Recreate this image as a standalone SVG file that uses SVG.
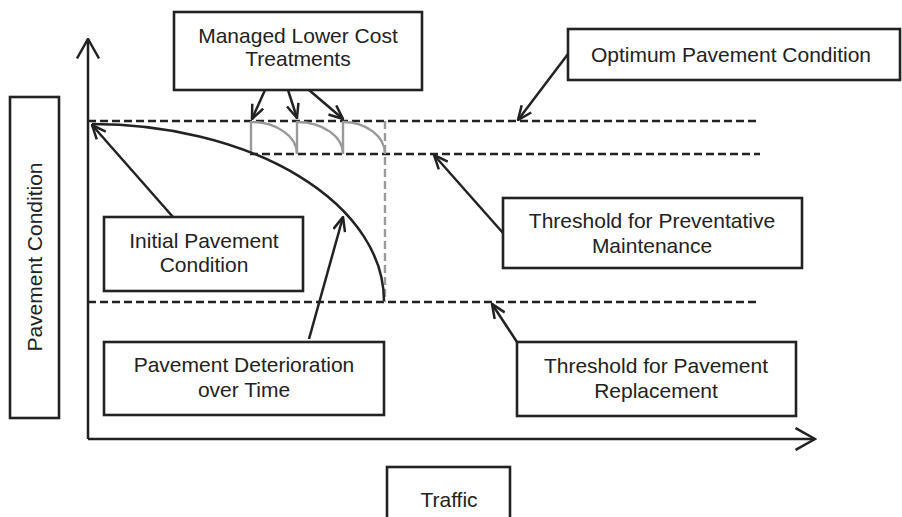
<svg xmlns="http://www.w3.org/2000/svg" width="902" height="517" viewBox="0 0 902 517">
<style>
text{font-family:"Liberation Sans",Arial,sans-serif;font-size:21px;fill:#222;text-anchor:middle}
.box{fill:#fff;stroke:#222;stroke-width:2.6}
.ln{fill:none;stroke:#222;stroke-width:2.5}
.dash{fill:none;stroke:#222;stroke-width:2.4;stroke-dasharray:8 4}
.gray{fill:none;stroke:#999;stroke-width:2.4}
.gdash{fill:none;stroke:#999;stroke-width:2.4;stroke-dasharray:8 4}
</style>
<defs>
<marker id="ah" viewBox="0 0 16 14" markerUnits="userSpaceOnUse" markerWidth="16" markerHeight="14" refX="15" refY="7" orient="auto">
<path d="M1,1 L15,7 L1,13" fill="none" stroke="#222" stroke-width="2.5"/>
</marker>
<marker id="ax" viewBox="0 0 22 24" markerUnits="userSpaceOnUse" markerWidth="22" markerHeight="24" refX="20.5" refY="12" orient="auto">
<path d="M1,1 L20.5,12 L1,23" fill="none" stroke="#222" stroke-width="2.5"/>
</marker>
</defs>

<g id="axes">
<line class="ln" x1="88" y1="439" x2="88" y2="39" marker-end="url(#ax)"/>
<line class="ln" x1="88" y1="439" x2="815" y2="439" marker-end="url(#ax)"/>
</g>

<g id="levels">
<line class="dash" x1="88" y1="121" x2="760" y2="121"/>
<line class="dash" x1="250" y1="154" x2="760" y2="154"/>
<line class="dash" x1="88" y1="302" x2="760" y2="302"/>
<line class="gdash" x1="385" y1="121" x2="385" y2="302"/>
</g>

<g id="treatments">
<line class="gray" x1="251" y1="121" x2="251" y2="154"/>
<line class="gray" x1="297" y1="121" x2="297" y2="154"/>
<line class="gray" x1="343" y1="121" x2="343" y2="154"/>
<path class="gray" d="M251 122 A46 32 0 0 1 297 154"/>
<path class="gray" d="M297 122 A46 32 0 0 1 343 154"/>
<path class="gray" d="M343 122 A42 32 0 0 1 385 154"/>
</g>

<g id="deterioration-curve">
<path class="ln" d="M92 124 A292 177 0 0 1 384 301"/>
</g>

<g id="connectors">
<line class="ln" x1="265" y1="90" x2="252" y2="119" marker-end="url(#ah)"/>
<line class="ln" x1="288" y1="90" x2="297" y2="118" marker-end="url(#ah)"/>
<line class="ln" x1="309" y1="90" x2="343" y2="119" marker-end="url(#ah)"/>
<line class="ln" x1="568" y1="54" x2="518" y2="120" marker-end="url(#ah)"/>
<line class="ln" x1="503" y1="233" x2="434" y2="155" marker-end="url(#ah)"/>
<line class="ln" x1="517" y1="342" x2="492" y2="304" marker-end="url(#ah)"/>
<line class="ln" x1="173" y1="217" x2="92" y2="125" marker-end="url(#ah)"/>
<line class="ln" x1="309" y1="339" x2="343" y2="217" marker-end="url(#ah)"/>
</g>

<g id="node-y-label">
<rect class="box" x="10" y="97" width="49" height="321"/>
<text transform="translate(42 257) rotate(-90)">Pavement Condition</text>
</g>

<g id="node-managed">
<rect class="box" x="174" y="12" width="248" height="78"/>
<text x="298" y="43">Managed Lower Cost</text>
<text x="298" y="66">Treatments</text>
</g>

<g id="node-optimum">
<rect class="box" x="568" y="29" width="332" height="51"/>
<text x="731" y="62">Optimum Pavement Condition</text>
</g>

<g id="node-initial">
<rect class="box" x="104" y="217" width="199" height="74"/>
<text x="204" y="248">Initial Pavement</text>
<text x="204" y="272">Condition</text>
</g>

<g id="node-preventative">
<rect class="box" x="503" y="198" width="299" height="70"/>
<text x="652" y="228">Threshold for Preventative</text>
<text x="652" y="253">Maintenance</text>
</g>

<g id="node-deterioration">
<rect class="box" x="104" y="342" width="280" height="73"/>
<text x="244" y="372">Pavement Deterioration</text>
<text x="244" y="397">over Time</text>
</g>

<g id="node-replacement">
<rect class="box" x="517" y="342" width="279" height="74"/>
<text x="656" y="373">Threshold for Pavement</text>
<text x="656" y="398">Replacement</text>
</g>

<g id="node-traffic">
<rect class="box" x="387" y="467" width="123" height="60"/>
<text x="449" y="507">Traffic</text>
</g>
</svg>
